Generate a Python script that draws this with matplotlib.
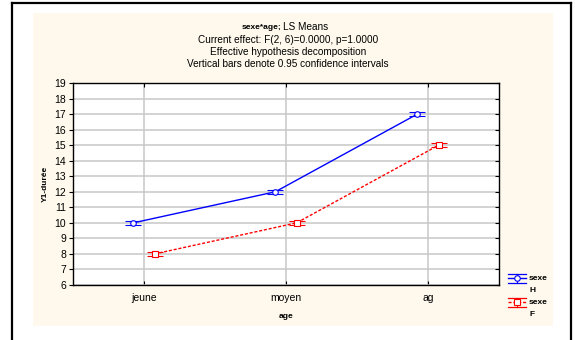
import matplotlib
matplotlib.use("Agg")
import matplotlib.pyplot as plt
from matplotlib.patches import Rectangle
from matplotlib.lines import Line2D
import numpy as np

plt.rcParams['font.family'] = ['Liberation Sans', 'DejaVu Sans']

categories = ["jeune", "moyen", "ag"]
h_means = [10, 12, 17]
f_means = [8, 10, 15]
h_ci = [0.12, 0.12, 0.12]
f_ci = [0.12, 0.12, 0.12]
yticks = list(range(6, 20))
legend_labels = [("sexe", "H"), ("sexe", "F")]

W, H = 575, 340
fig = plt.figure(figsize=(W / 100, H / 100), dpi=100)
fig.patch.set_facecolor("white")

def fx(px):
    return px / W

def fy(py):
    return 1 - py / H

# cream panel
fig.patches.append(Rectangle((fx(33), fy(326)), fx(553) - fx(33), fy(13) - fy(326),
                             transform=fig.transFigure, facecolor="#FEF9EC", edgecolor="none", zorder=-5))
# outer black border
for xs, ys in [([12, 12], [3, 340]), ([12, 571], [3, 3]), ([571, 571], [3, 340])]:
    fig.lines.append(Line2D([fx(x) for x in xs], [fy(y) for y in ys], transform=fig.transFigure,
                            color="black", lw=1.6, zorder=-4))

ax = fig.add_axes([fx(73), fy(285), fx(499) - fx(73), fy(83) - fy(285)])
ax.set_facecolor("white")

x = np.arange(len(categories))
off = 0.075
styles = [dict(color="blue", marker="o", ms=4, linestyle="-"),
          dict(color="red", marker="s", ms=4.5, linestyle=(0, (2.2, 1.3)))]
for xs, m, ci, st in [(x - off, h_means, h_ci, styles[0]), (x + off, f_means, f_ci, styles[1])]:
    ax.errorbar(xs, m, yerr=ci, color=st["color"], lw=1.0, marker=st["marker"], ms=st["ms"],
                mfc="white", mec=st["color"], mew=0.8, capsize=5.5, elinewidth=0.8, capthick=0.9,
                linestyle=st["linestyle"], zorder=3)

ax.set_xlim(-0.5, 2.5)
ax.set_ylim(6, 19)
ax.set_xticks(x)
ax.set_xticklabels(categories, fontsize=7.5)
ax.set_yticks(yticks)
ax.set_yticklabels([str(v) for v in yticks], fontsize=7.5)
ax.grid(True, color="#c8c8c8", lw=1.1, zorder=0)
ax.set_axisbelow(True)
ax.tick_params(axis="y", direction="out", length=3, width=0.8, pad=2)
ax.tick_params(axis="x", direction="in", length=3, width=0.8, pad=6, top=True)
for s in ax.spines.values():
    s.set_linewidth(1.0)
    s.set_color("black")

ax2 = ax.twinx()
ax2.set_ylim(ax.get_ylim())
ax2.set_yticks(yticks)
ax2.tick_params(axis="y", direction="in", length=3, width=0.8, labelright=False)
for s in ax2.spines.values():
    s.set_visible(False)

ax.set_xlabel("age", fontsize=6, fontweight="bold", labelpad=7)
ax.set_ylabel("Y1-durée", fontsize=6, fontweight="bold", labelpad=4)

# titles
tx = 288
fig.text(fx(281), fy(27.5), "sexe*age;", ha="right", va="center", fontsize=6, fontweight="bold")
fig.text(fx(283), fy(27.5), "LS Means", ha="left", va="center", fontsize=7.2)
fig.text(fx(tx), fy(40), "Current effect: F(2, 6)=0.0000, p=1.0000", ha="center", va="center", fontsize=7.2)
fig.text(fx(tx), fy(52), "Effective hypothesis decomposition", ha="center", va="center", fontsize=7.2)
fig.text(fx(tx), fy(64), "Vertical bars denote 0.95 confidence intervals", ha="center", va="center", fontsize=7.2)

# legend (manual, STATISTICA style)
for (l1, l2), st, yc in zip(legend_labels, styles, [278, 302]):
    c = st["color"]
    lsty = st["linestyle"]
    fig.lines.append(Line2D([fx(508), fx(526)], [fy(yc), fy(yc)], transform=fig.transFigure,
                            color=c, lw=1.0, linestyle=lsty))
    for dy in (-4.5, 4.5):
        fig.lines.append(Line2D([fx(508), fx(526)], [fy(yc + dy), fy(yc + dy)], transform=fig.transFigure,
                                color=c, lw=0.9))
    fig.lines.append(Line2D([fx(517), fx(517)], [fy(yc - 4.5), fy(yc + 4.5)], transform=fig.transFigure,
                            color=c, lw=0.8))
    fig.lines.append(Line2D([fx(517)], [fy(yc)], transform=fig.transFigure, color=c, marker=st["marker"],
                            ms=st["ms"], mfc="white", mec=c, mew=0.8, linestyle="none"))
    fig.text(fx(529), fy(yc + 1), l1, ha="left", va="center", fontsize=6, fontweight="bold")
    fig.text(fx(529), fy(yc + 12.5), l2, ha="left", va="center", fontsize=6, fontweight="bold")

fig.savefig("out.png", dpi=100)
